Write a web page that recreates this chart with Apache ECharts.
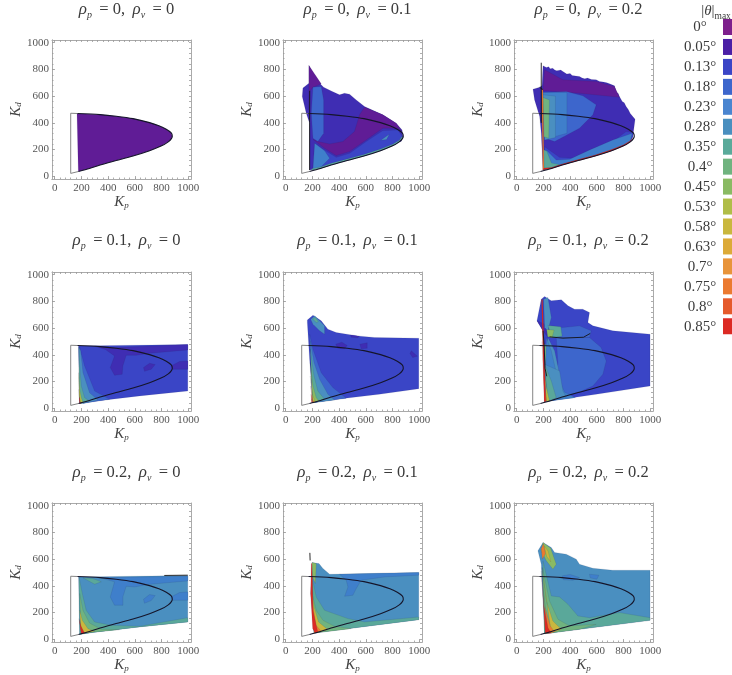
<!DOCTYPE html>
<html><head><meta charset="utf-8">
<style>html,body{margin:0;padding:0;background:#fff;overflow:hidden}#c{width:732px;height:675px;filter:blur(0.45px)}</style>
<script src="https://cdn.jsdelivr.net/npm/echarts@6/dist/echarts.min.js"></script>
</head><body><div id="c"></div>
<script>
// legend
const levelLabels=['0°','0.05°','0.13°','0.18°','0.23°','0.28°','0.35°','0.4°','0.45°','0.53°','0.58°','0.63°','0.7°','0.75°','0.8°','0.85°'];
const levelColors=['#7d1f8c','#4b1fa6','#3b45c6','#3d66cc','#4a85d0','#4a8fbf','#5aaa9a','#70b37f','#8aba63','#b0bd48','#c9b73e','#dcaa38','#e8943a','#eb7a30','#e55a2c','#dc2a24'];
const fillColors=['#601c96','#3f2db3','#3a45c6','#3d66cc','#3f7fcb','#4a8fc0','#5aa89a','#70b37f','#8aba63','#b0bd48','#c9b73e','#dcaa38','#e8943a','#eb7a30','#e55a2c','#dc2a24'];
// axes
const majorTicks=[0,200,400,600,800,1000];
const minorTicks=[0,40,80,120,160,200,240,280,320,360,400,440,480,520,560,600,640,680,720,760,800,840,880,920,960,1000];
// panel parameters
const rhoP=['0','0','0','0.1','0.1','0.1','0.2','0.2','0.2'];
const rhoV=['0','0.1','0.2','0','0.1','0.2','0','0.1','0.2'];
// stability boundary
const lowerArc=[[178,36],[260,58],[340,85],[460,118],[586,152],[710,192],[800,228],[850,258],[872,280],[880,300]];
const upperArc=[[872,325],[835,352],[780,378],[710,402],[586,432],[460,450],[340,462],[170,470]];
const leftEdge=[[178,36],[120,22],[120,472],[170,470]];
const lowerArcBack=[[850,258],[800,228],[710,192],[586,152],[460,118],[340,85],[260,58]];
// each layer: [legend level, outline in (Kp, Kd)]
const panelA=[[0,[[167,468],...upperArc.slice().reverse().slice(1),...lowerArc.slice().reverse(),[177,36]]]];
const panelB=[
[1,[[174,830],[229,722],[284,667],[345,637],[403,610],[440,622],[478,615],[528,572],[590,522],[660,490],[727,460],[827,397],[871,347],[878,297],[864,260],...lowerArcBack,[179,47],[179,397],[154,472],[124,597],[129,660],[174,697]]],
[0,[[174,830],[266,692],[204,667],[179,635],[174,497]]],
[0,[[204,277],[291,210],[378,155],[478,185],[602,272],[727,360],[839,360],[871,335],[827,397],[727,460],[590,517],[553,460],[515,335],[428,260],[329,242],[241,260]]],
[2,[[204,60],[260,62],[340,90],[460,122],[586,156],[710,196],[800,232],[850,262],[872,300],[839,347],[727,342],[602,260],[478,172],[378,142],[291,197],[217,247]]],
[3,[[204,667],[266,672],[284,572],[284,322],[241,260],[204,285],[192,472]]],
[4,[[217,247],[291,192],[329,135],[266,72],[204,47]]],
[6,[[190,45],[260,58],[340,85],[460,118],[586,152],[710,192],[800,228],[850,258],[878,290],[872,300],[850,270],[800,240],[710,204],[586,164],[460,130],[340,97],[260,70],[200,58]]],
[5,[[712,270],[775,315],[755,275]]]
];
const panelC=[
[1,[[197,827],[222,815],[240,820],[250,805],[270,808],[285,795],[300,790],[330,795],[346,785],[375,765],[400,770],[415,755],[430,752],[470,747],[490,735],[510,730],[530,735],[560,725],[595,722],[620,710],[650,705],[675,700],[700,690],[732,677],[745,630],[760,620],[769,597],[790,560],[805,550],[819,522],[835,500],[850,470],[886,427],[874,335],[869,297],...lowerArcBack,[197,47],[184,322],[172,447],[134,572],[122,652],[172,667],[190,680]]],
[0,[[209,797],[346,722],[595,710],[732,672],[769,592],[470,622],[197,642]]],
[3,[[184,627],[371,635],[495,602],[595,535],[570,460],[470,360],[376,310],[284,260],[209,285]]],
[4,[[197,627],[376,627],[376,322],[284,297],[209,335]]],
[5,[[197,610],[290,600],[290,290],[209,272]]],
[7,[[197,590],[245,572],[240,285],[204,297]]],
[2,[[209,222],[321,142],[421,135],[570,205],[719,260],[819,335],[874,327],[869,297],[850,262],[800,232],[710,196],[586,156],[460,122],[340,90],[260,62],[205,52]]],
[4,[[222,197],[296,122],[396,127],[545,197],[719,272],[864,322],[850,262],[800,232],[710,196],[586,156],[460,122],[340,90],[260,62],[215,52]]],
[6,[[197,200],[225,190],[260,100],[320,88],[260,62],[205,52]]],
[13,[[187,650],[197,650],[205,50],[195,50]]],
[15,[[195,50],[260,56],[340,83],[460,116],[586,150],[710,190],[800,226],[850,256],[876,290],[850,266],[800,236],[710,200],[586,160],[460,126],[340,93],[260,66],[205,62]]]
];
const panelD=[
[2,[[179,467],[996,477],[996,130],[635,93],[286,52],[187,37]]],
[1,[[300,465],[448,455],[996,477],[996,437],[710,412],[610,397],[535,397],[510,317],[505,255],[448,247],[416,305],[448,392],[380,440]]],
[1,[[665,305],[710,337],[752,327],[722,292],[672,277]]],
[1,[[871,317],[934,350],[996,355],[996,292],[884,292]]],
[3,[[187,455],[224,317],[299,130],[411,67],[212,37]]],
[5,[[179,462],[194,430],[212,267],[261,117],[324,62],[212,37],[187,37]]],
[6,[[182,455],[187,317],[199,167],[224,80],[261,55],[192,38],[183,100]]],
[9,[[180,267],[187,142],[199,80],[212,44],[192,37],[183,90]]],
[13,[[181,142],[188,50],[198,40],[188,37]]],
[15,[[183,80],[187,37],[192,37],[187,80]]]
];
const panelE=[
[2,[[162,660],[204,697],[266,655],[316,592],[378,567],[540,542],[665,530],[996,525],[996,147],[700,105],[400,70],[204,42],[179,367],[162,642]]],
[5,[[187,667],[217,692],[291,617],[291,555],[254,580],[204,630]]],
[6,[[200,670],[222,680],[245,650],[230,640]]],
[3,[[179,555],[204,442],[266,267],[353,155],[453,75],[204,42]]],
[5,[[184,505],[212,342],[254,217],[316,105],[366,62],[204,42]]],
[6,[[184,442],[212,242],[241,130],[291,67],[204,42]]],
[8,[[184,342],[204,167],[229,80],[249,55],[204,42]]],
[10,[[184,242],[199,105],[221,47],[204,42]]],
[13,[[187,167],[197,67],[212,45],[204,42]]],
[15,[[189,105],[194,42],[202,42]]],
[1,[[375,480],[420,495],[460,470],[440,445],[390,450]]],
[1,[[555,480],[610,490],[610,450],[565,445]]],
[1,[[940,430],[985,390],[950,380],[930,410]]],
[1,[[485,548],[552,540],[540,528],[490,532]]]
];
const panelF=[
[2,[[184,817],[209,837],[259,805],[334,812],[384,767],[433,742],[495,742],[545,717],[533,642],[570,617],[719,580],[998,555],[998,167],[595,105],[209,50],[197,580],[152,655]]],
[3,[[296,530],[545,530],[632,455],[670,355],[645,255],[570,167],[470,122],[321,80],[246,205],[309,330]]],
[3,[[246,617],[346,605],[470,617],[558,580],[545,530],[346,530],[259,530]]],
[1,[[152,655],[209,630],[234,530],[197,580]]],
[5,[[202,817],[234,830],[259,680],[234,580],[209,605]]],
[6,[[234,620],[330,610],[340,540],[262,530]]],
[8,[[225,590],[280,585],[265,530],[232,535]]],
[5,[[234,530],[284,430],[321,255],[259,255],[209,380]]],
[7,[[205,480],[240,470],[250,260],[220,270]]],
[4,[[222,530],[259,430],[300,250],[360,120],[440,80],[209,50]]],
[5,[[209,330],[321,280],[346,130],[371,85],[234,50]]],
[6,[[209,330],[259,205],[296,80],[234,50]]],
[9,[[202,330],[222,155],[246,55],[222,50]]],
[13,[[190,500],[207,180],[224,55],[209,50]]],
[15,[[186,815],[194,815],[218,50],[206,50]]]
];
const panelG=[
[5,[[179,467],[996,477],[996,130],[635,93],[286,52],[187,37]]],
[4,[[336,462],[996,472],[996,437],[710,412],[598,392],[535,397],[510,317],[510,255],[448,255],[416,317],[448,430]]],
[4,[[665,300],[710,335],[752,327],[722,290],[672,270]]],
[4,[[871,317],[934,350],[996,355],[996,292],[884,292]]],
[6,[[182,467],[207,342],[236,217],[299,130],[423,105],[635,97],[996,162],[996,130],[635,93],[286,52],[187,37]]],
[6,[[212,460],[299,412],[349,430],[286,455]]],
[7,[[187,342],[212,217],[261,122],[349,75],[485,72],[296,55],[199,42]]],
[10,[[187,217],[207,142],[249,80],[299,60],[199,42]]],
[13,[[187,142],[199,80],[224,50],[199,42]]],
[15,[[182,155],[194,105],[224,45],[199,42]]]
];
const panelH=[
[5,[[197,575],[249,567],[279,530],[329,487],[996,500],[996,147],[212,47],[187,342]]],
[4,[[403,487],[996,500],[996,480],[739,467],[565,442],[528,380],[503,330],[441,322],[466,392],[453,442]]],
[6,[[197,467],[229,317],[291,217],[466,155],[590,130],[996,167],[996,147],[212,47]]],
[7,[[197,342],[229,217],[279,142],[366,97],[490,80],[217,47]]],
[10,[[192,392],[212,242],[246,130],[316,72],[217,47]]],
[13,[[192,467],[202,267],[227,105],[266,60],[212,47]]],
[15,[[192,567],[187,342],[202,80],[222,47],[241,52],[204,217],[199,567]]],
[8,[[197,575],[229,567],[222,417],[202,467]]]
];
const panelI=[
[5,[[159,662],[197,725],[259,687],[284,650],[371,637],[446,600],[470,562],[570,532],[719,517],[998,517],[998,142],[470,75],[209,42],[184,562]]],
[4,[[341,475],[400,485],[470,462],[421,442],[350,445]]],
[4,[[545,487],[615,480],[600,450],[550,460]]],
[6,[[197,587],[259,325],[321,317],[384,262],[458,175],[545,162],[769,200],[998,162],[998,142],[470,75],[209,42]]],
[7,[[192,537],[246,287],[309,150],[396,100],[595,112],[470,75],[209,42]]],
[10,[[189,537],[222,287],[271,137],[334,75],[259,47]]],
[13,[[189,462],[214,237],[251,100],[284,57],[234,45]]],
[15,[[184,512],[202,262],[234,87],[259,45],[214,45]]],
[8,[[197,725],[254,682],[296,562],[271,525],[222,587],[184,662]]],
[10,[[205,700],[235,660],[255,580],[225,620]]],
[13,[[184,680],[200,715],[215,640],[192,600]]]
];
// dark contour strokes
const darkB=[[[179,47],[179,400],[180,640]]];
const darkC=[[[184,850],[184,640],[184,400]],[[172,665],[195,650]]];
const darkF=[[[197,580],[205,480],[212,300],[225,240]],[[246,535],[346,525],[500,532],[550,560]]];
const darkG=[[[820,478],[996,480]]];
const darkH=[[[181,647],[183,590]]];
const panels=[panelA,panelB,panelC,panelD,panelE,panelF,panelG,panelH,panelI];
const darks=[[],darkB,darkC,[],[],darkF,darkG,darkH,[]];

const colLeft=[52,283,514], rowTop=[40,272,503], titleRise=[45,46,45], frame=139;
const serif='"Liberation Serif",serif';
const axisMin=-20, axisMax=1020;
const titles=[],grids=[],xAxes=[],yAxes=[],series=[];
const polySeries=(name,pts,fill,a)=>({type:'custom',name,coordinateSystem:'cartesian2d',xAxisIndex:a,yAxisIndex:a,
  data:pts,encode:{x:0,y:1},itemStyle:{color:fill},silent:true,animation:false,clip:true,
  renderItem:(p,api)=>p.dataIndex!==0?null:({type:'polygon',shape:{points:pts.map(q=>api.coord(q))},style:{fill,stroke:'rgba(30,30,60,0.25)',lineWidth:0.4}})});
const lineS=(pts,color,width,a,smooth)=>({type:'line',data:pts,xAxisIndex:a,yAxisIndex:a,showSymbol:false,silent:true,animation:false,z:3,smooth:smooth||false,lineStyle:{color,width}});
const W={fontWeight:'normal',fontFamily:serif,color:'#3a3a3a'};
const txt={r:{...W,fontStyle:'italic',fontSize:17,lineHeight:20},
 s:{...W,fontStyle:'italic',fontSize:10,lineHeight:10,verticalAlign:'bottom'},
 t:{...W,fontSize:16.5,lineHeight:20}};
const nm={i:{...W,fontStyle:'italic',fontSize:15,lineHeight:15,color:'#444'},
 s:{...W,fontStyle:'italic',fontSize:9,lineHeight:9,verticalAlign:'bottom',color:'#444'}};
const base={type:'value',min:axisMin,max:axisMax,splitLine:{show:false},axisLine:{show:true,onZero:false,lineStyle:{color:'#aaa',width:1}}};
const tk=(vals,len)=>({show:true,inside:true,length:len,customValues:vals,lineStyle:{color:'#999',width:0.8}});
const labX={customValues:majorTicks,margin:4,fontFamily:serif,fontSize:11,color:'#555',formatter:v=>String(v)};
const labY={...labX,margin:3};
levelLabels.forEach((n,i)=>series.push({type:'custom',name:n,xAxisIndex:0,yAxisIndex:0,data:[],itemStyle:{color:levelColors[i]},renderItem:()=>null}));
panels.forEach((layers,i)=>{
  const c=i%3,r=Math.floor(i/3),L=colLeft[c],T=rowTop[r],a=i*3;
  grids.push({left:L,top:T,width:frame,height:frame,containLabel:false});
  titles.push({left:L+frame/2,top:T-titleRise[r],textAlign:'center',
    text:`{r|ρ}{s|p}{t| \u2009= ${rhoP[i]},\u2009 }{r|ρ}{s|v}{t| \u2009= ${rhoV[i]}}`,textStyle:{rich:txt}});
  xAxes.push({...base,gridIndex:i,position:'bottom',name:'{i|K}{s|p}',nameLocation:'middle',nameGap:16,nameTextStyle:{rich:nm},
    axisTick:tk(majorTicks,3),axisLabel:labX});
  xAxes.push({...base,gridIndex:i,position:'bottom',axisTick:tk(minorTicks,1.5),axisLabel:{show:false}});
  xAxes.push({...base,gridIndex:i,position:'top',axisTick:tk(minorTicks,2),axisLabel:{show:false}});
  yAxes.push({...base,gridIndex:i,position:'left',name:'{i|K}{s|d}',nameLocation:'middle',nameGap:21,nameTextStyle:{rich:nm},
    axisTick:tk(majorTicks,3),axisLabel:labY});
  yAxes.push({...base,gridIndex:i,position:'left',axisTick:tk(minorTicks,1.5),axisLabel:{show:false}});
  yAxes.push({...base,gridIndex:i,position:'right',axisTick:tk(minorTicks,2),axisLabel:{show:false}});
  layers.forEach(([lv,pts])=>series.push(polySeries(levelLabels[lv],pts,fillColors[lv],a)));
  darks[i].forEach(pts=>series.push(lineS(pts,'#151515',0.9,a)));
  series.push(lineS(leftEdge,'#777',0.9,a));
  series.push(lineS([...lowerArc,...upperArc],'#15152a',1.1,a,0.3));
});
titles.push({left:711,top:-4,textAlign:'center',text:'{t||}{r|θ}{t||}{s|max}',
  textStyle:{rich:{t:{...txt.t,fontSize:15},r:{...txt.r,fontSize:15},s:{...W,fontSize:9.5,lineHeight:9,verticalAlign:'bottom'}}}});
echarts.init(document.getElementById('c'),null,{renderer:'canvas'}).setOption({
  animation:false,backgroundColor:'#fff',title:titles,grid:grids,xAxis:xAxes,yAxis:yAxes,series,
  legend:{orient:'vertical',left:682,top:19,align:'right',itemWidth:10,itemHeight:16,itemGap:3.95,icon:'rect',selectedMode:false,padding:0,
    data:levelLabels,formatter:'{c|{name}}',
    textStyle:{rich:{c:{width:36,align:'center',verticalAlign:'bottom',fontFamily:serif,fontSize:15,lineHeight:16,color:'#3a3a3a'}}}}
});
</script></body></html>
